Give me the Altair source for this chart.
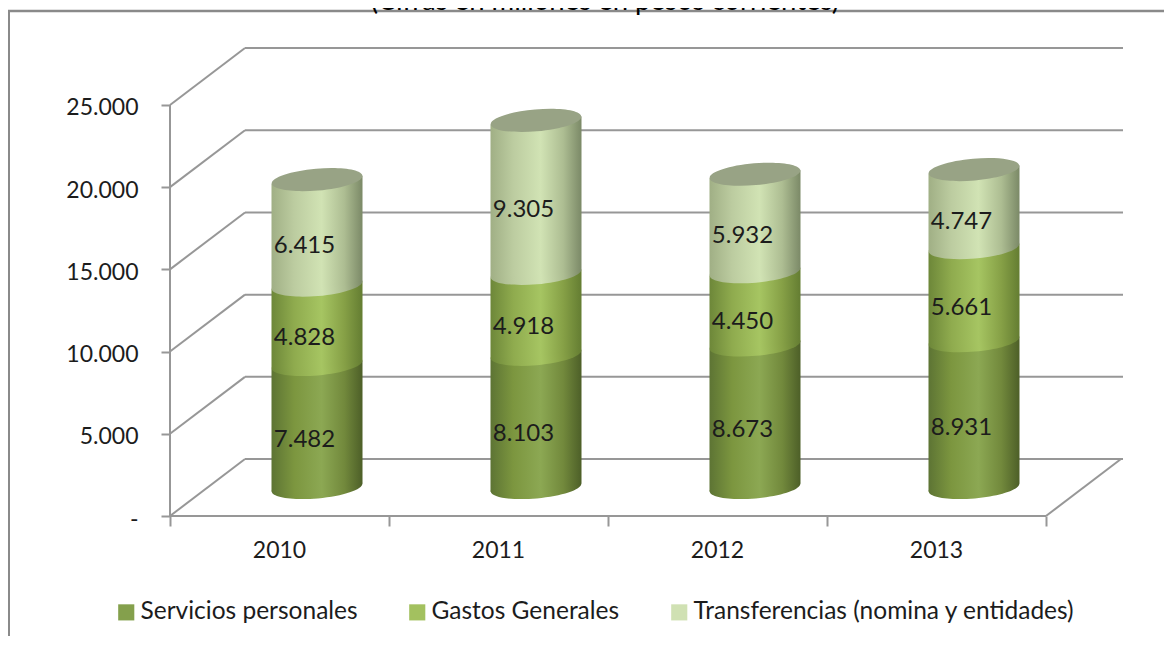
import altair as alt
import pandas as pd

years = [2010, 2011, 2012, 2013]
series = ["Servicios personales", "Gastos Generales", "Transferencias (nomina y entidades)"]
servicios = [7482, 8103, 8673, 8931]
gastos = [4828, 4918, 4450, 5661]
transferencias = [6415, 9305, 5932, 4747]
title_text = "(Cifras en millones en pesos corrientes)"
ticks = [0, 5000, 10000, 15000, 20000, 25000]

FONT = "Lato"
INK = "#1c1c1c"
GRID = "#979797"
LEGEND = ["#84a04c", "#a3c15f", "#d0e1b3"]
TOP = "#98a385"

PX_W, PX_H = 953, 468
CAT = 219.0                # px per category
PER = 82.3 / 5000          # px per value unit
DX, DY = 75 / CAT, 57 / PER
YMAX = 25000 + DY
XMAX = PX_W / CAT
BAR = 91 / CAT
TILT = 4 / PER


def grad(stops):
    return alt.LinearGradient(
        gradient="linear", x1=0, x2=1, y1=0, y2=0,
        stops=[alt.GradientStop(color=c, offset=o) for o, c in stops],
    )


GRADS = [
    grad([(0, "#5d7434"), (0.25, "#7c963f"), (0.55, "#8ca853"), (0.8, "#72893c"), (1, "#4d5f28")]),
    grad([(0, "#6d8739"), (0.25, "#8fab4e"), (0.55, "#a6c562"), (0.8, "#86a046"), (1, "#647d32")]),
    grad([(0, "#a0af85"), (0.25, "#bccca0"), (0.55, "#d1e3b4"), (0.8, "#adbd92"), (1, "#7b8967")]),
]

x_s = alt.Scale(domain=[0, XMAX], nice=False, zero=False)
y_s = alt.Scale(domain=[0, YMAX], nice=False, zero=False)
X = alt.X("x:Q", scale=x_s, title=None)
Y = alt.Y("y:Q", scale=y_s, title=None)

# ---- walls
wall = []
gid = 0
for v in ticks:
    wall += [dict(g=gid, x=DX, y=v + DY), dict(g=gid, x=XMAX, y=v + DY)]
    gid += 1
    wall += [dict(g=gid, x=0, y=v), dict(g=gid, x=DX, y=v + DY)]
    gid += 1
wall += [dict(g=gid, x=0, y=0), dict(g=gid, x=0, y=25000)]
gid += 1
wall += [dict(g=gid, x=0, y=0), dict(g=gid, x=4, y=0)]
gid += 1
wall += [dict(g=gid, x=4, y=0), dict(g=gid, x=4 + DX, y=DY)]

y_labels = "datum.value == 0 ? '-\u00a0\u00a0' : replace(format(datum.value, ','), ',', '.')"
walls = alt.Chart(pd.DataFrame(wall)).mark_line(stroke=GRID, strokeWidth=2).encode(
    x=alt.X("x:Q", scale=x_s, title=None, axis=alt.Axis(
        values=[0, 1, 2, 3, 4], labels=False, domain=False, grid=False, tickSize=10,
        tickColor=GRID, tickWidth=2)),
    y=alt.Y("y:Q", scale=y_s, title=None, axis=alt.Axis(
        values=ticks, labelExpr=y_labels, domain=False, grid=False, tickSize=9, tickColor=GRID,
        tickWidth=2, labelFont=FONT, labelFontSize=23, labelColor=INK, labelPadding=23,
        labelOffset=3)),
    detail="g:N",
)

# ---- cylinders
rows_flat, rows_area, rows_ell, rows_text = [], [], [], []
for i, yr in enumerate(years):
    cx = i + 0.5 + DX / 2
    base = 0
    for k, vals in enumerate([servicios, gastos, transferencias]):
        v = vals[i]
        y0, y1 = base + DY / 2, base + v + DY / 2
        rows_flat.append(dict(s=series[k], k=k, x=cx - BAR / 4, x2=cx + BAR / 4, y=y0, y2=y1))
        rows_area.append(dict(k=k, yr=yr, x=cx - BAR / 2, y=y1 - TILT, y2=y0 - TILT))
        rows_area.append(dict(k=k, yr=yr, x=cx + BAR / 2, y=y1 + TILT, y2=y0 + TILT))
        rows_ell.append(dict(k=k, x=cx, y=y0))
        rows_text.append(dict(x=i + 0.5 + 25 / CAT, y=base + v / 2 + 15 / PER,
                              t=f"{v:,}".replace(",", ".")))
        base += v
    rows_ell.append(dict(k=3, x=cx, y=base + DY / 2))

flat = pd.DataFrame(rows_flat)
area = pd.DataFrame(rows_area)
ell = pd.DataFrame(rows_ell)
txt = pd.DataFrame(rows_text)

ELLIPSE = "M-1,0 A1,0.24 0 1 1 1,0 A1,0.24 0 1 1 -1,0 Z"
SIZE = 91 ** 2


def ellipse(k, fill):
    return alt.Chart(ell[ell.k == k]).mark_point(
        shape=ELLIPSE, size=SIZE, filled=True, fill=fill, stroke=None, opacity=1, angle=355
    ).encode(x=X, y=Y)


flat_layer = alt.Chart(flat).mark_rect().encode(
    x=X, x2="x2:Q", y=Y, y2="y2:Q",
    color=alt.Color("s:N", scale=alt.Scale(domain=series, range=LEGEND), sort=series, title=None,
                    legend=alt.Legend(
                        orient="none", legendX=-56, legendY=552, direction="horizontal", columns=3,
                        symbolType="square", symbolSize=260, symbolStrokeWidth=0, columnPadding=47,
                        labelFont=FONT, labelFontSize=24.5, labelColor=INK, labelOffset=2,
                        labelLimit=500)),
)

layers = [walls, flat_layer]
for k in range(3):
    layers.append(ellipse(k, GRADS[k]))
    layers.append(
        alt.Chart(area[area.k == k]).mark_area(fill=GRADS[k], line=False, orient="vertical").encode(
            x=X, y=Y, y2="y2:Q", detail="yr:N")
    )
layers.append(ellipse(3, TOP))

labels = alt.Chart(txt).mark_text(font=FONT, fontSize=24, color=INK, align="center",
                                  baseline="middle").encode(x=X, y=Y, text="t:N")
layers.append(labels)

# year labels centred in each category, below the floor
year_df = pd.DataFrame({"x": [i + 0.5 for i in range(len(years))], "t": [str(y) for y in years]})
year_text = alt.Chart(year_df).mark_text(font=FONT, fontSize=23, color=INK, align="center",
                                         baseline="middle").encode(
    x=X, y=alt.value(PX_H + 35), text="t:N")
layers.append(year_text)

# frame and clipped heading
frame_l = alt.Chart(pd.DataFrame({"a": [0]})).mark_rule(stroke="#8a8a8a", strokeWidth=2).encode(
    x=alt.value(-161), y=alt.value(-37), y2=alt.value(590))
frame_t = alt.Chart(pd.DataFrame({"a": [0]})).mark_rule(stroke="#8a8a8a", strokeWidth=2.5).encode(
    x=alt.value(-162), x2=alt.value(994), y=alt.value(-37))
heading = alt.Chart(pd.DataFrame({"t": [title_text]})).mark_text(
    font=FONT, fontSize=27.5, color="#000000", align="center", baseline="alphabetic"
).encode(text="t:N", x=alt.value(435), y=alt.value(-38))
layers += [frame_l, frame_t, heading]

chart = alt.layer(*layers).properties(
    width=PX_W, height=PX_H,
    autosize=alt.AutoSizeParams(type="none"),
    padding={"left": 162, "top": 40, "right": 41, "bottom": 120},
    background="white",
).configure_view(stroke=None)

chart.save("out.html", embed_options={"renderer": "svg", "actions": False})
